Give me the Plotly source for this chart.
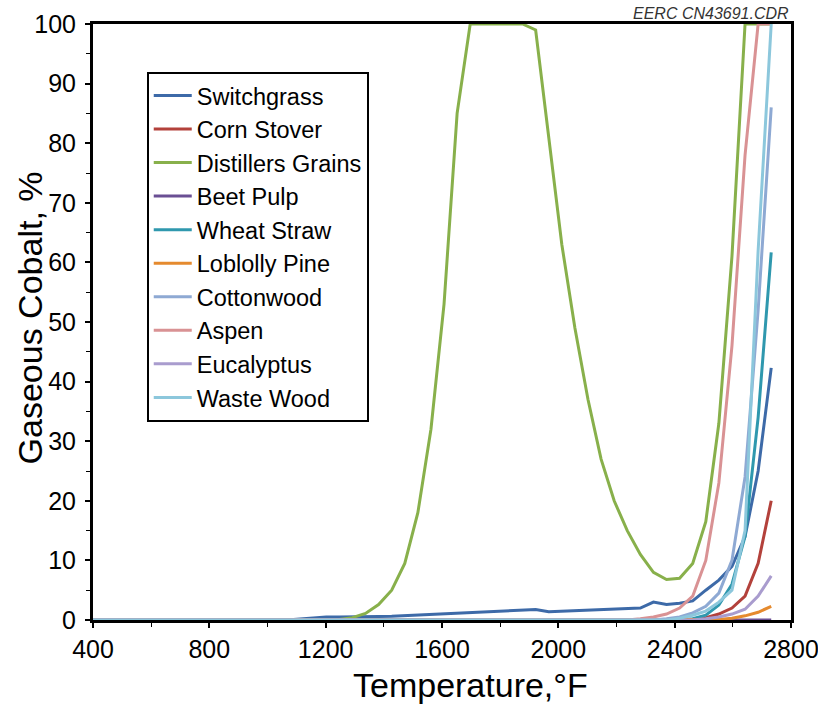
import plotly.graph_objects as go

# Temperature grid, °F (25 °C steps from 200 °C to 1500 °C)
temperature_f = [392, 437, 482, 527, 572, 617, 662, 707, 752, 797, 842, 887, 932, 977,
                 1022, 1067, 1112, 1157, 1202, 1247, 1292, 1337, 1382, 1427, 1472, 1517,
                 1562, 1607, 1652, 1697, 1742, 1787, 1832, 1877, 1922, 1967, 2012, 2057,
                 2102, 2147, 2192, 2237, 2282, 2327, 2372, 2417, 2462, 2507, 2552, 2597,
                 2642, 2687, 2732]

Z16 = [0] * 16

switchgrass = Z16 + [0.15, 0.35, 0.5, 0.5, 0.5, 0.55, 0.6, 0.65, 0.75, 0.8, 0.9, 1.0, 1.05,
                     1.15, 1.25, 1.35, 1.45, 1.55, 1.75, 1.4, 1.5, 1.55, 1.6, 1.7, 1.8, 1.9,
                     2.0, 3.0, 2.6, 2.8, 3.2, 5.0, 6.7, 9.0, 14.0, 25.0, 42.3]
corn_stover = [0] * 46 + [0.1, 0.4, 1.0, 2.0, 4.0, 9.5, 20.0]
distillers_grains = [0] * 19 + [0.1, 0.4, 1.1, 2.6, 5.0, 9.5, 18.0, 32.0, 53.0, 85.0, 100, 100,
                                100, 100, 100, 99.0, 81.0, 63.0, 49.0, 37.0, 27.0, 20.0, 15.0,
                                11.0, 8.0, 6.8, 7.0, 9.5, 16.5, 33.0, 61.0, 100, 100, 100]
beet_pulp = [0] * 53
wheat_straw = [0] * 46 + [0.2, 0.8, 2.5, 6.0, 14.0, 34.0, 61.7]
loblolly_pine = [0] * 48 + [0.1, 0.3, 0.7, 1.3, 2.3]
cottonwood = [0] * 44 + [0.2, 0.5, 1.2, 2.3, 4.5, 10.0, 24.0, 52.0, 86.0]
aspen = [0] * 42 + [0.2, 0.5, 1.0, 2.0, 4.0, 10.0, 23.0, 46.0, 78.0, 100, 100]
eucalyptus = [0] * 47 + [0.2, 0.5, 1.0, 1.8, 4.0, 7.4]
waste_wood = [0] * 45 + [0.3, 0.8, 1.5, 3.0, 5.0, 15.0, 62.0, 100]

series_names = ["Switchgrass", "Corn Stover", "Distillers Grains", "Beet Pulp", "Wheat Straw",
                "Loblolly Pine", "Cottonwood", "Aspen", "Eucalyptus", "Waste Wood"]
series_values = [switchgrass, corn_stover, distillers_grains, beet_pulp, wheat_straw,
                 loblolly_pine, cottonwood, aspen, eucalyptus, waste_wood]
series_colors = ["#3d6aa8", "#b3413b", "#88b04b", "#6a4f94", "#2f98ae",
                 "#e58a2e", "#8ea9d3", "#d99294", "#a99cce", "#8cc7dc"]

x_ticks = [400, 800, 1200, 1600, 2000, 2400, 2800]
y_ticks = [0, 10, 20, 30, 40, 50, 60, 70, 80, 90, 100]

FONT = "Liberation Sans, Arial, Helvetica, sans-serif"

fig = go.Figure()
for name, vals, col in zip(series_names, series_values, series_colors):
    fig.add_trace(go.Scatter(x=temperature_f, y=vals, name=name, mode="lines",
                             line=dict(color=col, width=3)))

fig.update_layout(
    width=818, height=709,
    margin=dict(l=93, r=27, t=24, b=89),
    paper_bgcolor="white", plot_bgcolor="white",
    font=dict(family=FONT, color="black"),
    showlegend=True,
    legend=dict(x=0.077, y=0.92, xanchor="left", yanchor="top",
                bgcolor="white", bordercolor="black", borderwidth=2,
                itemwidth=38,
                font=dict(family=FONT, size=23.5, color="black")),
    annotations=[
        dict(text="<i>EERC CN43691.CDR</i>", xref="paper", yref="paper",
             x=1.0, y=1.0, xanchor="right", yanchor="bottom", showarrow=False,
             font=dict(family=FONT, size=16, color="#333333"), yshift=0),
        dict(text="Temperature,°F", xref="paper", yref="paper",
             x=0.5415, y=0, xanchor="center", yanchor="middle", showarrow=False,
             font=dict(family=FONT, size=34, color="black"), yshift=-65),
        dict(text="Gaseous Cobalt, %", xref="paper", yref="paper", textangle=-90,
             x=0, y=0.506, xanchor="center", yanchor="middle", showarrow=False,
             font=dict(family=FONT, size=34, color="black"), xshift=-63),
    ],
)

fig.update_xaxes(
    range=[400, 2800], tickvals=x_ticks, ticktext=[str(v) for v in x_ticks],
    showgrid=False, zeroline=False, automargin=False,
    showline=True, linewidth=3, linecolor="black", mirror=True,
    ticks="outside", ticklen=5, tickwidth=1.5, tickcolor="black",
    minor=dict(dtick=200, tick0=400, ticks="outside", ticklen=4, tickwidth=1, tickcolor="black"),
    tickfont=dict(family=FONT, size=25, color="black"),
    ticklabeloverflow="allow",
)
fig.update_yaxes(
    range=[0, 100], tickvals=y_ticks, ticktext=[str(v) for v in y_ticks],
    showgrid=False, zeroline=False, automargin=False,
    showline=True, linewidth=3, linecolor="black", mirror=True,
    ticks="outside", ticklen=5, tickwidth=1.5, tickcolor="black",
    minor=dict(dtick=5, tick0=0, ticks="outside", ticklen=4, tickwidth=1, tickcolor="black"),
    tickfont=dict(family=FONT, size=25, color="black"),
    ticklabelstandoff=4,
)

fig.write_html("out.html")
